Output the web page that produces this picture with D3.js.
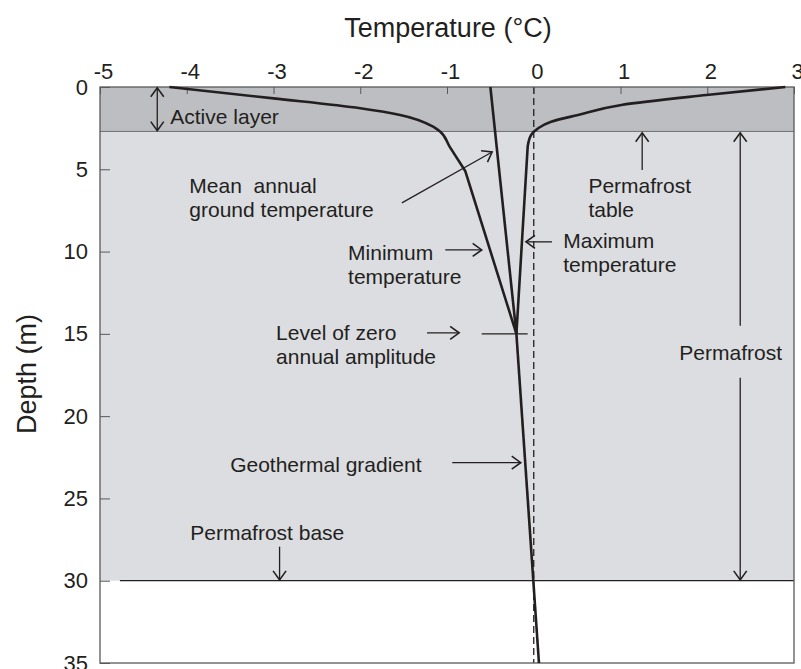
<!DOCTYPE html>
<html>
<head>
<meta charset="utf-8">
<script src="https://cdn.jsdelivr.net/npm/d3@7"></script>
<style>
  body { margin: 0; background: #ffffff; }
  svg { display: block; font-family: "Liberation Sans", Arial, sans-serif; }
</style>
</head>
<body>
<div id="chart"></div>
<script>
// Axis ticks
const tempTicks = [-5, -4, -3, -2, -1, 0, 1, 2, 3];
const depthTicks = [0, 5, 10, 15, 20, 25, 30, 35];

// Layer boundaries (m)
const activeLayerBase = 2.7;
const permafrostBase = 30;

// Temperature envelopes [temp, depth]; curved near the surface, straight below the kink
const minTemp = [[-4.2, 0], [-3.0, 0.69], [-2.0, 1.29], [-1.54, 1.7], [-1.16, 2.41],
                 [-1.08, 2.71], [-0.97, 3.62], [-0.79, 5.1], [-0.2, 15]];
const maxTemp = [[2.9, 0], [1.99, 0.49], [1.01, 1.09], [0.51, 1.7], [0.2, 2.11],
                 [0.05, 2.51], [-0.03, 2.91], [-0.07, 3.62], [-0.2, 15]];
const kinkIndex = 7;
const meanTemp = [[-0.5, 0], [-0.2, 15]];
const geothermal = [[-0.2, 15], [0.06, 35]];
const zeroAmplitude = [[-0.6, 15], [-0.07, 15]];

// Annotation texts (anchored in data units)
const labels = [
  { lines: ["Active layer"], t: -4.19, d: 2.25 },
  { lines: ["Mean  annual", "ground temperature"], t: -3.97, d: 6.44 },
  { lines: ["Minimum", "temperature"], t: -2.14, d: 10.5 },
  { lines: ["Maximum", "temperature"], t: 0.34, d: 9.78 },
  { lines: ["Permafrost", "table"], t: 0.63, d: 6.44 },
  { lines: ["Level of zero", "annual amplitude"], t: -2.97, d: 15.36 },
  { lines: ["Geothermal gradient"], t: -3.5, d: 23.38 },
  { lines: ["Permafrost base"], t: -3.96, d: 27.5 },
  { lines: ["Permafrost"], t: 2.27, d: 16.58, anchor: "middle" }
];

// Annotation arrows [from, to], double = heads at both ends
const arrows = [
  { from: [-4.34, 0.05], to: [-4.34, 2.65], double: true },
  { from: [-1.52, 7.04], to: [-0.48, 3.95] },
  { from: [-1.02, 9.9], to: [-0.6, 9.9] },
  { from: [0.21, 9.41], to: [-0.09, 9.41] },
  { from: [1.25, 5.04], to: [1.25, 2.78] },
  { from: [-1.23, 14.94], to: [-0.86, 14.94] },
  { from: [-0.94, 22.83], to: [-0.15, 22.83] },
  { from: [-2.93, 27.93], to: [-2.93, 29.95] },
  { from: [2.38, 14.5], to: [2.38, 2.78] },
  { from: [2.38, 17.67], to: [2.38, 29.95] }
];

const width = 801;
const height = 669;
const ink = "#231f20";

const svg = d3.select("#chart")
    .append("svg")
    .attr("width", width)
    .attr("height", height);

const x = d3.scaleLinear().domain([-5, 3]).range([100, 794]);
const y = d3.scaleLinear().domain([0, 35]).range([87, 663]);

// Arrow head marker
const defs = svg.append("defs");
defs.append("marker")
    .attr("id", "head")
    .attr("viewBox", "-1 -8 12 16")
    .attr("refX", 9)
    .attr("refY", 0)
    .attr("markerWidth", 12)
    .attr("markerHeight", 16)
    .attr("markerUnits", "userSpaceOnUse")
    .attr("orient", "auto-start-reverse")
    .append("path")
    .attr("d", "M0,-6.5L9,0L0,6.5")
    .attr("fill", "none")
    .attr("stroke", ink)
    .attr("stroke-width", 1.6);

// Shaded layers
svg.append("rect")
    .attr("x", x(-5)).attr("y", y(0))
    .attr("width", x(3) - x(-5)).attr("height", y(activeLayerBase) - y(0))
    .attr("fill", "#bdbec1");
svg.append("rect")
    .attr("x", x(-5)).attr("y", y(activeLayerBase))
    .attr("width", x(3) - x(-5)).attr("height", y(permafrostBase) - y(activeLayerBase))
    .attr("fill", "#dcdde0");

// Permafrost table line
svg.append("line")
    .attr("x1", x(-5)).attr("x2", x(3))
    .attr("y1", y(activeLayerBase)).attr("y2", y(activeLayerBase))
    .attr("stroke", "#6d6e71").attr("stroke-width", 1);

// Permafrost base line
svg.append("line")
    .attr("x1", x(-4.77)).attr("x2", x(3))
    .attr("y1", y(permafrostBase)).attr("y2", y(permafrostBase))
    .attr("stroke", ink).attr("stroke-width", 1.3);

// Zero degree dashed line
svg.append("line")
    .attr("x1", x(0)).attr("x2", x(0))
    .attr("y1", y(0)).attr("y2", y(35))
    .attr("stroke", ink).attr("stroke-width", 1.3)
    .attr("stroke-dasharray", "7,4");

// Axes (inner ticks)
const xAxis = svg.append("g")
    .attr("transform", `translate(0,${y(0)})`)
    .call(d3.axisTop(x).tickValues(tempTicks).tickSize(-7).tickPadding(8).tickFormat(d3.format("d")));
const yAxis = svg.append("g")
    .attr("transform", `translate(${x(-5)},0)`)
    .call(d3.axisLeft(y).tickValues(depthTicks).tickSize(-10).tickPadding(12));

[xAxis, yAxis].forEach(function(g) {
    g.select(".domain").remove();
    g.selectAll(".tick line").attr("stroke", "#58595b").attr("stroke-width", 1);
    g.selectAll(".tick text")
        .attr("fill", ink)
        .style("font-size", "22px")
        .style("font-family", "'Liberation Sans', Arial, sans-serif");
});
xAxis.selectAll(".tick text").attr("dx", 3).text(d => d < 0 ? "-" + Math.abs(d) : d);

// Plot border
svg.append("rect")
    .attr("x", x(-5)).attr("y", y(0))
    .attr("width", x(3) - x(-5)).attr("height", y(35) - y(0))
    .attr("fill", "none")
    .attr("stroke", "#58595b").attr("stroke-width", 1.3);

// Profiles
const line = d3.line().x(d => x(d[0])).y(d => y(d[1]));
const smooth = d3.line().x(d => x(d[0])).y(d => y(d[1])).curve(d3.curveMonotoneY);

[minTemp, maxTemp].forEach(function(data) {
    svg.append("path")
        .attr("d", smooth(data.slice(0, kinkIndex + 1)) + line(data.slice(kinkIndex)).replace("M", "L"))
        .attr("fill", "none")
        .attr("stroke", ink)
        .attr("stroke-width", 2.6)
        .attr("stroke-linejoin", "round");
});
[meanTemp, geothermal].forEach(function(data) {
    svg.append("path")
        .attr("d", line(data))
        .attr("fill", "none")
        .attr("stroke", ink)
        .attr("stroke-width", 2.6);
});
svg.append("path")
    .attr("d", line(zeroAmplitude))
    .attr("fill", "none")
    .attr("stroke", ink)
    .attr("stroke-width", 1.3);

// Arrows
svg.selectAll(".arrow")
    .data(arrows)
    .enter()
    .append("line")
    .attr("class", "arrow")
    .attr("x1", d => x(d.from[0])).attr("y1", d => y(d.from[1]))
    .attr("x2", d => x(d.to[0])).attr("y2", d => y(d.to[1]))
    .attr("stroke", ink)
    .attr("stroke-width", 1.3)
    .attr("marker-end", "url(#head)")
    .attr("marker-start", d => d.double ? "url(#head)" : null);

// Labels
const label = svg.selectAll(".label")
    .data(labels)
    .enter()
    .append("text")
    .attr("class", "label")
    .attr("x", d => x(d.t))
    .attr("y", d => y(d.d))
    .attr("text-anchor", d => d.anchor || "start")
    .attr("fill", ink)
    .style("font-size", "21px")
    .style("white-space", "pre");
label.selectAll("tspan")
    .data(d => d.lines.map(l => ({ text: l, t: d.t })))
    .enter()
    .append("tspan")
    .attr("x", d => x(d.t))
    .attr("dy", (d, i) => i === 0 ? 0 : 24)
    .text(d => d.text);

// Axis titles
svg.append("text")
    .attr("x", 448)
    .attr("y", 37)
    .attr("text-anchor", "middle")
    .attr("fill", ink)
    .style("font-size", "27px")
    .text("Temperature (°C)");
svg.append("text")
    .attr("transform", "translate(36,374) rotate(-90)")
    .attr("text-anchor", "middle")
    .attr("fill", ink)
    .style("font-size", "27px")
    .text("Depth (m)");
</script>
</body>
</html>
